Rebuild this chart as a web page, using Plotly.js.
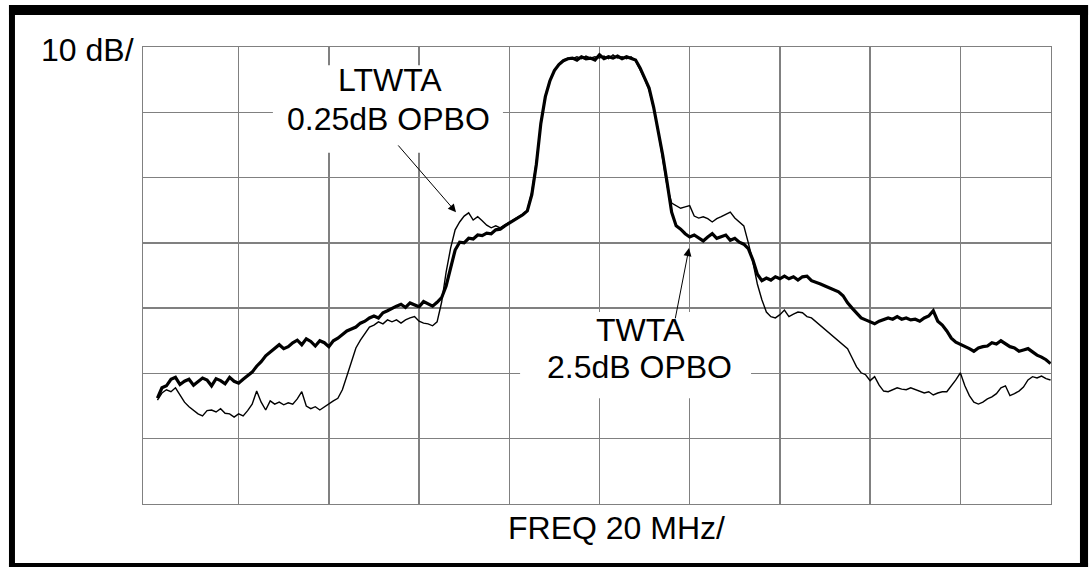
<!DOCTYPE html>
<html>
<head>
<meta charset="utf-8">
<script src="https://cdn.plot.ly/plotly-3.0.1.min.js"></script>
<style>
html,body{margin:0;padding:0;background:#ffffff;}
#chart{width:1091px;height:567px;}
</style>
</head>
<body>
<div id="chart"></div>
<script>
// Spectrum analyzer sweep points (MHz offset from carrier centre)
const freqMHz = [-98,-97,-96,-95,-94,-93,-92,-91,-90,-89,-88,-87,-86,-85,-84,-83,-82,-81,-80,-79,
-78,-77,-76,-75,-74,-73,-72,-71,-70,-69,-68,-67,-66,-65,-64,-63,-62,-61,-60,-59,
-58,-57,-56,-55,-54,-53,-52,-51,-50,-49,-48,-47,-46,-45,-44,-43,-42,-41,-40,-39,
-38,-37,-36,-35,-34,-33,-32,-31,-30,-29,-28,-27,-26,-25,-24,-23,-22,-21,-20,-19,
-18,-17,-16,-15,-14,-13,-12,-11,-10,-9,-8,-7,-6,-5,-4,-3,-2,-1,0,1,
2,3,4,5,6,7,8,9,10,11,12,13,14,15,16,17,18,19,20,21,
22,23,24,25,26,27,28,29,30,31,32,33,34,35,36,37,38,39,40,41,
42,43,44,45,46,47,48,49,50,51,52,53,54,55,56,57,58,59,60,61,
62,63,64,65,66,67,68,69,70,71,72,73,74,75,76,77,78,79,80,81,
82,83,84,85,86,87,88,89,90,91,92,93,94,95,96,97,98,99,100];

// TWTA, 2.5 dB OPBO (heavy trace), dB relative to top graticule
const twtaDb = [
-53.8,-52.2,-51.9,-50.9,-50.6,-51.7,-51.2,-50.9,-51.8,-51.3,
-50.7,-51.0,-51.9,-50.8,-51.1,-51.6,-50.6,-51.2,-51.5,-50.9,
-50.4,-49.8,-48.9,-48.2,-47.3,-46.7,-46.1,-45.6,-46.2,-45.9,
-45.3,-44.9,-45.6,-44.7,-45.1,-45.8,-45.0,-45.3,-45.9,-45.0,
-44.6,-44.1,-43.5,-43.2,-42.9,-42.3,-42.0,-41.5,-41.2,-41.5,
-40.7,-40.4,-40.0,-39.7,-39.4,-39.9,-39.2,-39.5,-39.8,-39.0,
-39.3,-39.7,-39.1,-38.4,-36.6,-33.8,-31.1,-29.9,-30.0,-29.3,
-29.4,-28.8,-28.9,-28.5,-28.6,-28.0,-27.9,-27.4,-27.0,-26.5,
-26.2,-25.7,-25.1,-22.6,-18.0,-11.7,-7.6,-5.2,-3.6,-2.7,
-2.1,-1.8,-1.7,-2.0,-1.5,-1.8,-1.7,-2.0,-1.2,-1.8,
-1.5,-1.7,-1.4,-1.8,-1.5,-1.7,-2.0,-3.2,-4.7,-6.3,
-9.2,-12.7,-16.5,-20.8,-25.3,-27.4,-27.9,-28.6,-29.1,-28.8,
-29.3,-29.7,-29.1,-28.6,-29.3,-29.1,-28.8,-29.6,-29.3,-29.9,
-30.2,-30.9,-32.6,-34.8,-35.8,-35.4,-35.7,-35.2,-35.5,-35.1,
-35.5,-35.2,-35.7,-35.2,-35.1,-35.8,-36.0,-36.3,-36.6,-36.9,
-37.1,-37.5,-38.1,-39.2,-40.0,-40.7,-41.5,-41.8,-42.1,-42.4,
-42.0,-41.8,-41.5,-41.7,-41.3,-41.7,-41.5,-41.8,-41.7,-42.0,
-41.5,-41.2,-40.4,-42.0,-42.6,-43.5,-44.6,-45.2,-45.5,-45.8,
-46.2,-46.6,-46.1,-45.9,-45.8,-45.3,-45.5,-45.0,-45.5,-45.9,
-46.1,-46.6,-46.4,-46.2,-46.7,-47.2,-47.5,-47.9,-48.5];

// LTWTA, 0.25 dB OPBO (light trace)
const ltwtaDb = [
-54.1,-53.0,-52.5,-52.8,-52.2,-53.4,-54.4,-55.1,-55.7,-56.2,
-56.5,-55.7,-55.6,-55.9,-55.4,-56.1,-56.2,-56.7,-56.2,-56.5,
-55.7,-54.7,-52.7,-54.4,-55.6,-54.2,-54.7,-54.4,-54.8,-54.5,
-54.7,-53.9,-52.8,-55.0,-55.4,-55.1,-55.6,-55.1,-54.7,-54.2,
-53.8,-52.5,-50.4,-48.2,-46.1,-44.9,-43.8,-42.9,-42.6,-42.1,
-42.4,-41.8,-42.1,-41.8,-42.3,-41.8,-41.5,-41.3,-42.0,-42.3,
-42.4,-42.7,-42.1,-39.1,-34.5,-30.8,-28.0,-26.8,-25.9,-25.4,
-26.5,-26.0,-26.6,-27.3,-27.7,-27.4,-27.7,-27.3,-26.8,-26.5,
-26.0,-25.6,-25.0,-22.2,-17.6,-11.8,-7.5,-5.1,-3.7,-2.6,
-2.0,-1.7,-1.8,-1.5,-1.8,-1.4,-1.7,-1.5,-1.7,-1.4,
-1.8,-1.2,-1.7,-1.5,-1.8,-1.5,-2.1,-3.4,-4.9,-6.6,
-9.3,-12.9,-17.0,-21.3,-23.9,-24.3,-24.7,-24.5,-24.3,-25.9,
-26.2,-26.0,-26.3,-26.8,-26.3,-26.0,-25.6,-25.3,-26.2,-26.8,
-27.4,-30.0,-32.9,-36.3,-38.7,-40.6,-41.3,-41.5,-41.0,-40.3,
-41.3,-40.9,-40.6,-40.7,-41.3,-41.5,-42.1,-42.6,-43.2,-43.8,
-44.4,-45.0,-45.6,-46.2,-47.6,-49.0,-49.9,-50.2,-51.1,-50.5,
-51.8,-52.7,-52.8,-52.5,-52.2,-52.4,-52.5,-52.2,-52.5,-52.8,
-53.0,-52.8,-53.3,-53.0,-52.8,-52.8,-51.9,-51.0,-49.9,-51.9,
-53.4,-54.4,-54.7,-54.4,-53.9,-53.6,-53.1,-52.2,-51.9,-53.4,
-53.1,-52.7,-52.1,-51.0,-50.5,-50.7,-50.4,-50.8,-51.0];

// Graticule divisions (20 MHz/div, 10 dB/div)
const xGridMHz = [-80,-60,-40,-20,0,20,40,60,80];
const yGridDb = [-60,-50,-40,-30,-20,-10];

// Text labels
const scaleLabel = '10 dB/';
const freqLabel = 'FREQ 20 MHz/';
const ltwtaLabel = ['LTWTA', '0.25dB OPBO'];
const twtaLabel = ['TWTA', '2.5dB OPBO'];

const FONT = '"Liberation Sans", Arial, Helvetica, sans-serif';
const GRID = '#808080';

const traces = [
  {x: freqMHz, y: twtaDb, type: 'scatter', mode: 'lines', name: 'TWTA 2.5dB OPBO',
   line: {color: '#000000', width: 3.2}, hoverinfo: 'skip'},
  {x: freqMHz, y: ltwtaDb, type: 'scatter', mode: 'lines', name: 'LTWTA 0.25dB OPBO',
   line: {color: '#000000', width: 1.4}, hoverinfo: 'skip'}
];

function band(x0, x1, y0, y1) {
  return {type: 'rect', xref: 'paper', yref: 'paper', x0: x0, x1: x1, y0: y0, y1: y1,
          fillcolor: '#000000', line: {width: 0}, layer: 'above'};
}

const shapes = [
  // white label backgrounds interrupting the graticule
  {type: 'rect', xref: 'x', yref: 'y', x0: -72.4, x1: -21.4, y0: -16.2, y1: -2.8,
   fillcolor: '#ffffff', line: {width: 0}, layer: 'between'},
  {type: 'rect', xref: 'x', yref: 'y', x0: -17.6, x1: 33.6, y0: -53.8, y1: -40.6,
   fillcolor: '#ffffff', line: {width: 0}, layer: 'between'},
  // black photo frame
  band(-0.1476, -0.1410, -0.16, 1.092),
  band(-0.1476, 1.0408, 1.0700, 1.092),
  band(1.0319, 1.0408, -0.16, 1.092),
  band(-0.1476, 1.0408, -0.16, -0.1291)
];

const txt = () => ({family: FONT, size: 32, color: '#000000'});

const annotations = [
  {xref: 'paper', yref: 'paper', x: -0.0611, y: 0.9945, xanchor: 'center', yanchor: 'middle',
   text: scaleLabel, showarrow: false, font: txt()},
  {xref: 'paper', yref: 'paper', x: 0.522, y: -0.0525, xanchor: 'center', yanchor: 'middle',
   text: freqLabel, showarrow: false, font: txt()},
  {xref: 'x', yref: 'y', x: -46.45, y: -5.05, xanchor: 'center', yanchor: 'middle',
   text: ltwtaLabel[0], showarrow: false, font: txt()},
  {xref: 'x', yref: 'y', x: -46.7, y: -11.03, xanchor: 'center', yanchor: 'middle',
   text: ltwtaLabel[1], showarrow: false, font: txt()},
  {xref: 'x', yref: 'y', x: 9.2, y: -43.3, xanchor: 'center', yanchor: 'middle',
   text: twtaLabel[0], showarrow: false, font: txt()},
  {xref: 'x', yref: 'y', x: 8.8, y: -49.0, xanchor: 'center', yanchor: 'middle',
   text: twtaLabel[1], showarrow: false, font: txt()},
  // arrows
  {xref: 'x', yref: 'y', axref: 'x', ayref: 'y', x: -31.8, y: -25.3, ax: -44.9, ay: -14.85,
   text: '', showarrow: true, arrowhead: 2, arrowsize: 1.6, arrowwidth: 1, arrowcolor: '#000000', standoff: 0},
  {xref: 'x', yref: 'y', axref: 'x', ayref: 'y', x: 19.85, y: -30.8, ax: 16.74, ay: -41.8,
   text: '', showarrow: true, arrowhead: 2, arrowsize: 1.6, arrowwidth: 1, arrowcolor: '#000000', standoff: 0}
];

const axisCommon = {
  showticklabels: false, ticks: '', showgrid: true, gridcolor: GRID, gridwidth: 1.4,
  zeroline: false, showline: true, mirror: true, linecolor: GRID, linewidth: 1.4,
  fixedrange: true, tickmode: 'array'
};

const layout = {
  width: 1091, height: 567,
  margin: {l: 143, r: 40, t: 47, b: 63, pad: 0},
  paper_bgcolor: '#ffffff', plot_bgcolor: '#ffffff',
  showlegend: false,
  font: {family: FONT, size: 32, color: '#000000'},
  xaxis: Object.assign({}, axisCommon, {range: [-101.2, 100.1], tickvals: xGridMHz}),
  yaxis: Object.assign({}, axisCommon, {range: [-70, 0], tickvals: yGridDb}),
  shapes: shapes,
  annotations: annotations
};

Plotly.newPlot('chart', traces, layout, {staticPlot: true, displayModeBar: false});
</script>
</body>
</html>
